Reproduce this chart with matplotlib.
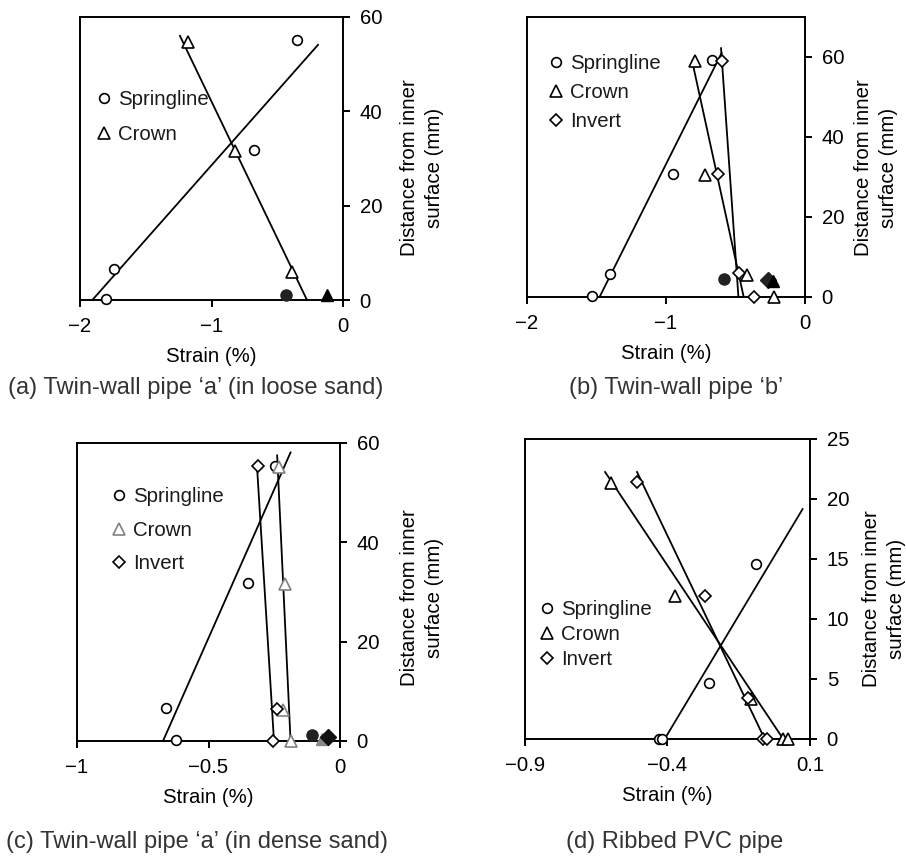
import numpy as np
import matplotlib.pyplot as plt

plt.rcParams['font.family'] = ['Liberation Sans', 'DejaVu Sans']
plt.rcParams['font.size'] = 14.7
plt.rcParams['text.color'] = '#1a1a1a'

W, H = 906, 856

# (a) twin-wall pipe 'a' in loose sand
a_spring_x = [-0.35, -0.68, -1.74, -1.80]
a_spring_y = [55.2, 31.8, 6.5, 0.3]
a_crown_x = [-1.18, -0.82, -0.39]
a_crown_y = [54.8, 31.5, 6.0]
a_spring_fit = ([-1.906, -0.19], [0, 54.1])
a_crown_fit = ([-1.24, -0.274], [56, 0])
a_solid_circle = ([-0.43], [1.1])
a_solid_triangle = ([-0.12], [1.0])

# (b) twin-wall pipe 'b'
b_spring_x = [-1.53, -1.40, -0.95, -0.67]
b_spring_y = [0.2, 5.8, 30.8, 59.3]
b_crown_x = [-0.79, -0.72, -0.42, -0.225]
b_crown_y = [58.9, 30.6, 5.6, 0.0]
b_invert_x = [-0.60, -0.623, -0.472, -0.364]
b_invert_y = [59.0, 30.75, 6.0, 0.0]
b_spring_fit = ([-1.478, -0.60], [0, 61])
b_crown_fit = ([-0.812, -0.441], [59, 0])
b_invert_fit = ([-0.604, -0.479], [62.2, 0])
b_solid_circle = ([-0.58], [4.5])
b_solid_diamond = ([-0.268], [4.3])
b_solid_triangle = ([-0.232], [3.9])

# (c) twin-wall pipe 'a' in dense sand
c_spring_x = [-0.249, -0.349, -0.661, -0.622]
c_spring_y = [55.4, 31.8, 6.6, 0.2]
c_crown_x = [-0.232, -0.209, -0.217, -0.185]
c_crown_y = [55.1, 31.6, 6.25, 0.0]
c_invert_x = [-0.31, -0.239, -0.254]
c_invert_y = [55.3, 6.4, 0.0]
c_spring_fit = ([-0.673, -0.188], [0, 58.1])
c_crown_fit = ([-0.239, -0.188], [57.5, 0])
c_invert_fit = ([-0.315, -0.251], [54.8, 0])
c_solid_circle = ([-0.108], [1.2])
c_solid_triangle = ([-0.07], [0.5])
c_solid_diamond = ([-0.047], [0.9])

# (d) ribbed PVC pipe
d_spring_x = [-0.43, -0.42, -0.255, -0.09]
d_spring_y = [0.0, 0.0, 4.64, 14.6]
d_crown_x = [-0.598, -0.375, -0.107, 0.006, 0.024]
d_crown_y = [21.3, 11.9, 3.3, 0.0, 0.0]
d_invert_x = [-0.507, -0.269, -0.117, -0.064, -0.052]
d_invert_y = [21.4, 11.9, 3.45, 0.0, 0.0]
d_spring_fit = ([-0.41, 0.074], [0, 19.16])
d_crown_fit = ([-0.619, 0.006], [22.25, 0])
d_invert_fit = ([-0.507, -0.059], [22.25, 0])

labels = ['Springline', 'Crown', 'Invert']
captions = ["(a) Twin-wall pipe \u2018a\u2019 (in loose sand)",
            "(b) Twin-wall pipe \u2018b\u2019",
            "(c) Twin-wall pipe \u2018a\u2019 (in dense sand)",
            "(d) Ribbed PVC pipe"]

fig = plt.figure(figsize=(W / 100, H / 100), dpi=100)


def add_axes(l, r, t, b):
    return fig.add_axes([l / W, 1 - b / H, (r - l) / W, (b - t) / H])


def style(ax, xlim, xticks, ylim, yticks, label_xy):
    ax.set_xlim(xlim)
    ax.set_ylim(ylim)
    ax.set_xticks(xticks)
    ax.set_yticks(yticks)
    ax.yaxis.tick_right()
    ax.yaxis.set_label_position('right')
    for s in ax.spines.values():
        s.set_linewidth(1.4)
    ax.tick_params(direction='out', length=5, width=1.4, pad=7, labelsize=14.7)
    ax.set_xlabel('Strain (%)', labelpad=8)
    ax.set_ylabel('Distance from inner\nsurface (mm)', linespacing=1.45)
    ax.yaxis.set_label_coords(*label_xy)
    ax.yaxis.label.set_va('center')


mk = dict(linestyle='none', mfc='white', mew=1.2, clip_on=False, zorder=5)
open_styles = [dict(marker='o', ms=7), dict(marker='^', ms=8.5), dict(marker='D', ms=6.5)]


def draw(ax, series, fits, solids, colors=('k', 'k', 'k')):
    handles = []
    for (x, y), st, c in zip(series, open_styles, colors):
        h, = ax.plot(x, y, mec=c, **st, **mk)
        handles.append(h)
    for fx, fy in fits:
        ax.plot(fx, fy, color='k', lw=1.3, zorder=3, clip_on=False)
    for (x, y), m, c in solids:
        ax.plot(x, y, linestyle='none', marker=m, ms=8,
                mfc=c, mec=c, clip_on=False, zorder=6)
    return handles


def legend(ax, handles, n, x, y, spacing):
    ax.legend(handles, labels[:n], loc='upper left', bbox_to_anchor=(x / W, 1 - y / H),
              bbox_transform=fig.transFigure, frameon=False, handlelength=0.6,
              handletextpad=0.4, borderpad=0, borderaxespad=0, labelspacing=spacing,
              fontsize=14.7)


# panel (a)
ax = add_axes(80, 343, 17, 300)
h = draw(ax, [(a_spring_x, a_spring_y), (a_crown_x, a_crown_y)],
         [a_spring_fit, a_crown_fit],
         [(a_solid_circle, 'o', '#222222'), (a_solid_triangle, '^', 'k')])
style(ax, (-2, 0), [-2, -1, 0], (0, 60), [0, 20, 40, 60], (1.300, 0.466))
legend(ax, h, 2, 98, 90, 0.8)

# panel (b)
ax = add_axes(527, 805, 17, 297)
h = draw(ax, [(b_spring_x, b_spring_y), (b_crown_x, b_crown_y), (b_invert_x, b_invert_y)],
         [b_spring_fit, b_crown_fit, b_invert_fit],
         [(b_solid_circle, 'o', '#222222'), (b_solid_diamond, 'D', '#222222'),
          (b_solid_triangle, '^', 'k')])
style(ax, (-2, 0), [-2, -1, 0], (0, 70), [0, 20, 40, 60], (1.255, 0.461))
legend(ax, h, 3, 550, 54, 0.5)

# panel (c)
ax = add_axes(77, 340, 443, 741)
h = draw(ax, [(c_spring_x, c_spring_y), (c_crown_x, c_crown_y), (c_invert_x, c_invert_y)],
         [c_spring_fit, c_crown_fit, c_invert_fit],
         [(c_solid_circle, 'o', '#222222'), (c_solid_triangle, '^', '#888888'),
          (c_solid_diamond, 'D', '#111111')],
         colors=('k', '#808080', 'k'))
style(ax, (-1, 0), [-1, -0.5, 0], (0, 60), [0, 20, 40, 60], (1.312, 0.480))
ax.set_xticklabels(['\u22121', '\u22120.5', '0'])
legend(ax, h, 3, 113, 487, 0.72)

# panel (d)
ax = add_axes(525, 810, 439, 739)
h = draw(ax, [(d_spring_x, d_spring_y), (d_crown_x, d_crown_y), (d_invert_x, d_invert_y)],
         [d_spring_fit, d_crown_fit, d_invert_fit], [])
style(ax, (-0.9, 0.1), [-0.9, -0.4, 0.1], (0, 25), [0, 5, 10, 15, 20, 25], (1.26, 0.467))
ax.set_xticklabels(['\u22120.9', '\u22120.4', '0.1'])
legend(ax, h, 3, 541, 600, 0.3)

for (cx, cy), text in zip([(196, 388), (676, 388), (197, 842), (675, 842)], captions):
    fig.text(cx / W, 1 - cy / H, text, ha='center', va='center', fontsize=17, color='#333333')

fig.savefig('out.png', dpi=100)
